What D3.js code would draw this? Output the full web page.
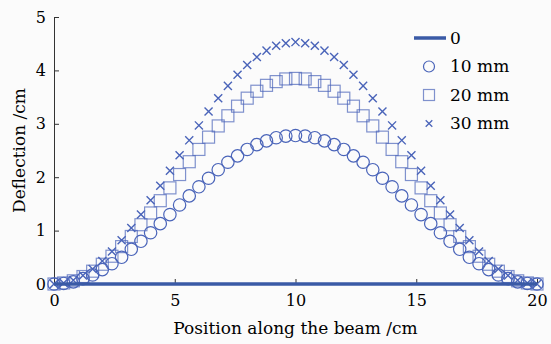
<!DOCTYPE html>
<html>
<head>
<meta charset="utf-8">
<script src="https://cdn.jsdelivr.net/npm/d3@7"></script>
<style>
  html, body { margin: 0; padding: 0; background: #fbfbfb; }
  svg { display: block; }
  text { font-family: "DejaVu Serif", "Liberation Serif", serif; fill: #000; }
</style>
</head>
<body>
<svg id="chart" width="551" height="344"></svg>
<script>
// position along the beam (cm)
const positions = [
  0, 0.4, 0.8, 1.2, 1.6, 2, 2.4, 2.8, 3.2, 3.6, 4, 4.4, 4.8, 5.2, 5.6, 6, 6.4, 6.8, 7.2, 7.6, 8, 8.4, 8.8, 9.2, 9.6,
  10, 10.4, 10.8, 11.2, 11.6, 12, 12.4, 12.8, 13.2, 13.6, 14, 14.4, 14.8, 15.2, 15.6, 16, 16.4, 16.8, 17.2, 17.6, 18,
  18.4, 18.8, 19.2, 19.6, 20
];

const defl0 = positions.map(() => 0);

const defl10 = [
  0, 0.01, 0.04, 0.10, 0.17, 0.27, 0.38, 0.50, 0.65, 0.80, 0.96, 1.13, 1.30, 1.48, 1.65, 1.82, 1.98, 2.14, 2.28,
  2.40, 2.52, 2.61, 2.68, 2.74, 2.77, 2.78, 2.77, 2.74, 2.68, 2.61, 2.52, 2.40, 2.28, 2.14, 1.98, 1.82, 1.65, 1.48,
  1.30, 1.13, 0.96, 0.80, 0.65, 0.50, 0.38, 0.27, 0.17, 0.10, 0.04, 0.01, 0
];

const defl20 = [
  0, 0.02, 0.06, 0.14, 0.24, 0.37, 0.52, 0.70, 0.89, 1.11, 1.33, 1.56, 1.80, 2.05, 2.29, 2.52, 2.75, 2.96, 3.15,
  3.33, 3.48, 3.61, 3.72, 3.79, 3.84, 3.85, 3.84, 3.79, 3.72, 3.61, 3.48, 3.33, 3.15, 2.96, 2.75, 2.52, 2.29, 2.05,
  1.80, 1.56, 1.33, 1.11, 0.89, 0.70, 0.52, 0.37, 0.24, 0.14, 0.06, 0.02, 0
];

const defl30 = [
  0, 0.02, 0.07, 0.16, 0.28, 0.43, 0.61, 0.82, 1.05, 1.30, 1.57, 1.84, 2.12, 2.41, 2.69, 2.97, 3.23, 3.48, 3.71,
  3.92, 4.10, 4.25, 4.37, 4.46, 4.51, 4.53, 4.51, 4.46, 4.37, 4.25, 4.10, 3.92, 3.71, 3.48, 3.23, 2.97, 2.69, 2.41,
  2.12, 1.84, 1.57, 1.30, 1.05, 0.82, 0.61, 0.43, 0.28, 0.16, 0.07, 0.02, 0
];

const legendLabels = ['0', '10 mm', '20 mm', '30 mm'];
const xTicks = [0, 5, 10, 15, 20];
const yTicks = [0, 1, 2, 3, 4, 5];

const blue = '#4a64b9';
const lineBlue = '#3a5aa6';

const svg = d3.select('#chart');
const margin = {top: 17, right: 14, bottom: 60, left: 54};
const width = +svg.attr('width') - margin.left - margin.right;
const height = +svg.attr('height') - margin.top - margin.bottom;
const g = svg.append('g').attr('transform', `translate(${margin.left},${margin.top})`);

const x = d3.scaleLinear().domain([0, 20]).range([0, width]);
const y = d3.scaleLinear().domain([0, 5]).range([height, 0]);

// axes, ticks pointing inward
const xAxis = g.append('g')
  .attr('transform', `translate(0,${height})`)
  .call(d3.axisBottom(x).tickValues(xTicks).tickFormat(d3.format('d'))
    .tickSize(-5).tickPadding(11).tickSizeOuter(0));
const yAxis = g.append('g')
  .call(d3.axisLeft(y).tickValues(yTicks).tickFormat(d3.format('d'))
    .tickSize(-5).tickPadding(8).tickSizeOuter(0));

[xAxis, yAxis].forEach(a => {
  a.select('.domain').attr('stroke', '#333');
  a.selectAll('.tick line').attr('stroke', '#333');
  a.selectAll('.tick text')
    .style('font-family', '"DejaVu Serif", serif')
    .style('font-size', '16px')
    .attr('fill', '#000');
});

const pts = s => positions.map((p, i) => ({x: p, y: s[i]}));

// 20 mm squares
g.append('g').selectAll('rect')
  .data(pts(defl20))
  .enter().append('rect')
    .attr('x', d => x(d.x) - 6)
    .attr('y', d => y(d.y) - 6)
    .attr('width', 12)
    .attr('height', 12)
    .attr('fill', 'none')
    .attr('stroke', blue)
    .attr('stroke-opacity', 0.7)
    .attr('stroke-width', 1.2);

// 10 mm circles
g.append('g').selectAll('circle')
  .data(pts(defl10))
  .enter().append('circle')
    .attr('cx', d => x(d.x))
    .attr('cy', d => y(d.y))
    .attr('r', 6.2)
    .attr('fill', 'none')
    .attr('stroke', blue)
    .attr('stroke-width', 1.2);

// 30 mm crosses
const cross = d3.symbol().type(d3.symbolX).size(44);
g.append('g').selectAll('path')
  .data(pts(defl30))
  .enter().append('path')
    .attr('d', cross)
    .attr('transform', d => `translate(${x(d.x)},${y(d.y)})`)
    .attr('fill', 'none')
    .attr('stroke', blue)
    .attr('stroke-width', 1.4);

// zero deflection line
g.append('path')
  .datum(pts(defl0))
  .attr('fill', 'none')
  .attr('stroke', lineBlue)
  .attr('stroke-width', 3.5)
  .attr('d', d3.line().x(d => x(d.x)).y(d => y(d.y)));

// legend
const legend = svg.append('g').attr('transform', 'translate(414,38)');
const row = 28.5;
legend.append('line')
  .attr('x1', 0).attr('x2', 32).attr('y1', 0).attr('y2', 0)
  .attr('stroke', lineBlue).attr('stroke-width', 3.5);
legend.append('circle')
  .attr('cx', 15).attr('cy', row).attr('r', 5.5)
  .attr('fill', 'none').attr('stroke', blue).attr('stroke-width', 1.2);
legend.append('rect')
  .attr('x', 9.5).attr('y', 2 * row - 5.5).attr('width', 11).attr('height', 11)
  .attr('fill', 'none').attr('stroke', blue).attr('stroke-opacity', 0.7).attr('stroke-width', 1.2);
legend.append('path')
  .attr('d', d3.symbol().type(d3.symbolX).size(30))
  .attr('transform', `translate(15,${3 * row})`)
  .attr('fill', 'none').attr('stroke', blue).attr('stroke-width', 1.3);
legend.selectAll('text.lab')
  .data(legendLabels)
  .enter().append('text')
    .attr('class', 'lab')
    .attr('x', 36)
    .attr('y', (d, i) => i * row)
    .attr('dy', '0.35em')
    .style('font-size', '17px')
    .text(d => d);

// axis titles
svg.append('text')
  .attr('x', margin.left + width / 2)
  .attr('y', 334)
  .attr('text-anchor', 'middle')
  .style('font-size', '17px')
  .text('Position along the beam /cm');

svg.append('text')
  .attr('transform', `translate(25,${margin.top + height / 2}) rotate(-90)`)
  .attr('text-anchor', 'middle')
  .style('font-size', '17px')
  .text('Deflection /cm');
</script>
</body>
</html>
